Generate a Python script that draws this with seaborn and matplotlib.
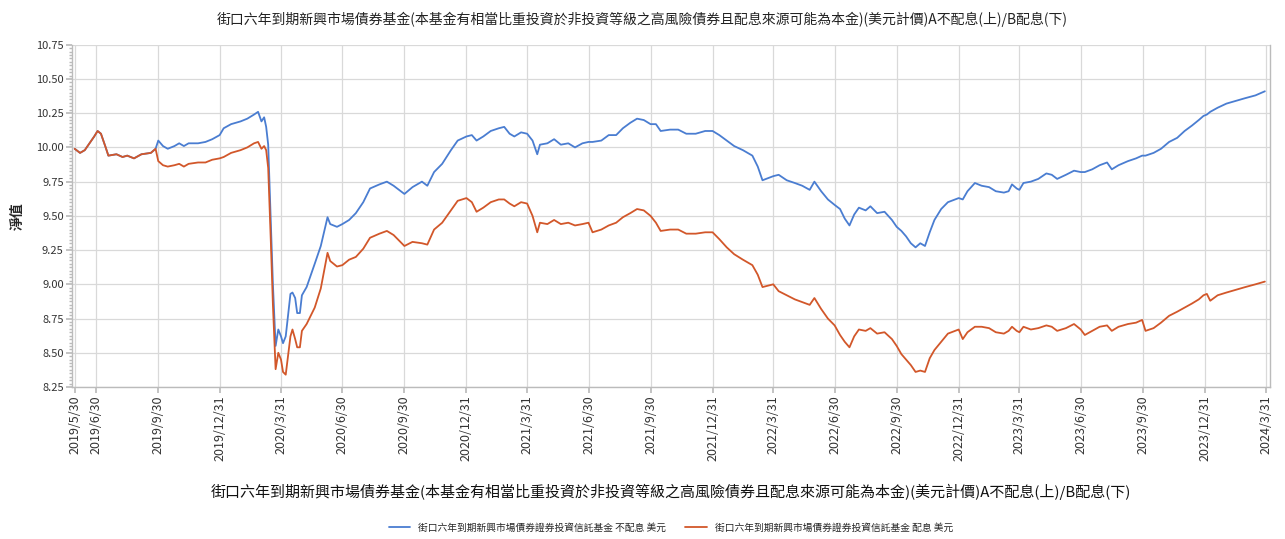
import pandas as pd
import seaborn as sns
import matplotlib.pyplot as plt
import matplotlib.dates as mdates
from matplotlib.ticker import FixedLocator, AutoMinorLocator

# chart data
dates = [
    "2019-05-30", "2019-06-07", "2019-06-14", "2019-06-21", "2019-06-28", "2019-07-03",
    "2019-07-08", "2019-07-15", "2019-07-19", "2019-07-31", "2019-08-09", "2019-08-16",
    "2019-08-26", "2019-09-06", "2019-09-20", "2019-09-27",
    "2019-10-01", "2019-10-08", "2019-10-15", "2019-10-25", "2019-11-01", "2019-11-08",
    "2019-11-15", "2019-11-29", "2019-12-10", "2019-12-20", "2019-12-31", "2020-01-06",
    "2020-01-17", "2020-01-31", "2020-02-10", "2020-02-20", "2020-02-26", "2020-03-02",
    "2020-03-06", "2020-03-09", "2020-03-12", "2020-03-16", "2020-03-19", "2020-03-23",
    "2020-03-27", "2020-03-31", "2020-04-03", "2020-04-07", "2020-04-14", "2020-04-17",
    "2020-04-21", "2020-04-24", "2020-04-28", "2020-05-01", "2020-05-08", "2020-05-20",
    "2020-05-29", "2020-06-08", "2020-06-12", "2020-06-22", "2020-06-30", "2020-07-10",
    "2020-07-20", "2020-07-31", "2020-08-10", "2020-08-24", "2020-09-04", "2020-09-14",
    "2020-09-30", "2020-10-12", "2020-10-26", "2020-11-03", "2020-11-13", "2020-11-25",
    "2020-12-08", "2020-12-18", "2020-12-31", "2021-01-08", "2021-01-15", "2021-01-25",
    "2021-02-05", "2021-02-17", "2021-02-25", "2021-03-05", "2021-03-12", "2021-03-22",
    "2021-03-31", "2021-04-08", "2021-04-15", "2021-04-19", "2021-04-30", "2021-05-10",
    "2021-05-20", "2021-05-31", "2021-06-10", "2021-06-21", "2021-06-30", "2021-07-06",
    "2021-07-19", "2021-07-30", "2021-08-10", "2021-08-20", "2021-08-31", "2021-09-10",
    "2021-09-20", "2021-09-30", "2021-10-08", "2021-10-15", "2021-10-29", "2021-11-10",
    "2021-11-22", "2021-12-06", "2021-12-20", "2021-12-31", "2022-01-10", "2022-01-21",
    "2022-02-01", "2022-02-14", "2022-02-28", "2022-03-08", "2022-03-15", "2022-03-31",
    "2022-04-08", "2022-04-20", "2022-05-02", "2022-05-13", "2022-05-24", "2022-05-31",
    "2022-06-10", "2022-06-20", "2022-06-30", "2022-07-08", "2022-07-15", "2022-07-22",
    "2022-07-29", "2022-08-05", "2022-08-15", "2022-08-22", "2022-09-01", "2022-09-12",
    "2022-09-23", "2022-09-30", "2022-10-07", "2022-10-14", "2022-10-21", "2022-10-28",
    "2022-11-04", "2022-11-11", "2022-11-18", "2022-11-25", "2022-12-05", "2022-12-15",
    "2022-12-31", "2023-01-06", "2023-01-13", "2023-01-24", "2023-02-03", "2023-02-14",
    "2023-02-24", "2023-03-08", "2023-03-15", "2023-03-20", "2023-03-27", "2023-03-31",
    "2023-04-06", "2023-04-17", "2023-04-28", "2023-05-10", "2023-05-18", "2023-05-26",
    "2023-06-08", "2023-06-20", "2023-06-30", "2023-07-06", "2023-07-17", "2023-07-28",
    "2023-08-08", "2023-08-15", "2023-08-25", "2023-09-08", "2023-09-20", "2023-09-29",
    "2023-10-04", "2023-10-16", "2023-10-27", "2023-11-08", "2023-11-20", "2023-12-01",
    "2023-12-12", "2023-12-22", "2023-12-29", "2024-01-03", "2024-01-08", "2024-01-19",
    "2024-02-01", "2024-02-15", "2024-02-29", "2024-03-15", "2024-03-29",
]

nav_a = [
    9.99, 9.96, 9.98, 10.03, 10.08, 10.12,
    10.10, 10.00, 9.94, 9.95, 9.93, 9.94,
    9.92, 9.95, 9.96, 9.99,
    10.05, 10.01, 9.99, 10.01, 10.03, 10.01,
    10.03, 10.03, 10.04, 10.06, 10.09, 10.14,
    10.17, 10.19, 10.21, 10.24, 10.26, 10.19,
    10.22, 10.15, 10.02, 9.45, 9.00, 8.55,
    8.67, 8.62, 8.57, 8.62, 8.93, 8.94,
    8.90, 8.79, 8.79, 8.92, 8.98, 9.15,
    9.28, 9.49, 9.44, 9.42, 9.44, 9.47,
    9.52, 9.60, 9.70, 9.73, 9.75, 9.72,
    9.66, 9.71, 9.75, 9.72, 9.82, 9.88,
    9.98, 10.05, 10.08, 10.09, 10.05, 10.08,
    10.12, 10.14, 10.15, 10.10, 10.08, 10.11,
    10.10, 10.05, 9.95, 10.02, 10.03, 10.06,
    10.02, 10.03, 10.00, 10.03, 10.04, 10.04,
    10.05, 10.09, 10.09, 10.14, 10.18, 10.21,
    10.20, 10.17, 10.17, 10.12, 10.13, 10.13,
    10.10, 10.10, 10.12, 10.12, 10.09, 10.05,
    10.01, 9.98, 9.94, 9.86, 9.76, 9.79,
    9.80, 9.76, 9.74, 9.72, 9.69, 9.75,
    9.68, 9.62, 9.58, 9.55, 9.48, 9.43,
    9.51, 9.56, 9.54, 9.57, 9.52, 9.53,
    9.47, 9.42, 9.39, 9.35, 9.30, 9.27,
    9.30, 9.28, 9.38, 9.47, 9.55, 9.60,
    9.63, 9.62, 9.68, 9.74, 9.72, 9.71,
    9.68, 9.67, 9.68, 9.73, 9.70, 9.69,
    9.74, 9.75, 9.77, 9.81, 9.80, 9.77,
    9.80, 9.83, 9.82, 9.82, 9.84, 9.87,
    9.89, 9.84, 9.87, 9.90, 9.92, 9.94,
    9.94, 9.96, 9.99, 10.04, 10.07, 10.12,
    10.16, 10.20, 10.23, 10.24, 10.26, 10.29,
    10.32, 10.34, 10.36, 10.38, 10.41,
]

nav_b = [
    9.99, 9.96, 9.98, 10.03, 10.08, 10.12,
    10.10, 10.00, 9.94, 9.95, 9.93, 9.94,
    9.92, 9.95, 9.96, 9.99,
    9.90, 9.87, 9.86, 9.87, 9.88, 9.86,
    9.88, 9.89, 9.89, 9.91, 9.92, 9.93,
    9.96, 9.98, 10.00, 10.03, 10.04, 9.99,
    10.01, 9.98, 9.85, 9.30, 8.85, 8.38,
    8.50, 8.45, 8.36, 8.34, 8.62, 8.67,
    8.60, 8.54, 8.54, 8.66, 8.71, 8.83,
    8.97, 9.23, 9.17, 9.13, 9.14, 9.18,
    9.20, 9.26, 9.34, 9.37, 9.39, 9.36,
    9.28, 9.31, 9.30, 9.29, 9.40, 9.45,
    9.54, 9.61, 9.63, 9.60, 9.53, 9.56,
    9.60, 9.62, 9.62, 9.59, 9.57, 9.60,
    9.59, 9.50, 9.38, 9.45, 9.44, 9.47,
    9.44, 9.45, 9.43, 9.44, 9.45, 9.38,
    9.40, 9.43, 9.45, 9.49, 9.52, 9.55,
    9.54, 9.50, 9.45, 9.39, 9.40, 9.40,
    9.37, 9.37, 9.38, 9.38, 9.33, 9.27,
    9.22, 9.18, 9.14, 9.07, 8.98, 9.00,
    8.95, 8.92, 8.89, 8.87, 8.85, 8.90,
    8.82, 8.75, 8.70, 8.63, 8.58, 8.54,
    8.62, 8.67, 8.66, 8.68, 8.64, 8.65,
    8.60, 8.55, 8.49, 8.45, 8.41, 8.36,
    8.37, 8.36, 8.46, 8.52, 8.58, 8.64,
    8.67, 8.60, 8.65, 8.69, 8.69, 8.68,
    8.65, 8.64, 8.66, 8.69, 8.66, 8.65,
    8.69, 8.67, 8.68, 8.70, 8.69, 8.66,
    8.68, 8.71, 8.67, 8.63, 8.66, 8.69,
    8.70, 8.66, 8.69, 8.71, 8.72, 8.74,
    8.66, 8.68, 8.72, 8.77, 8.80, 8.83,
    8.86, 8.89, 8.92, 8.93, 8.88, 8.92,
    8.94, 8.96, 8.98, 9.00, 9.02,
]

tick_dates = [
    "2019-05-30", "2019-06-30", "2019-09-30", "2019-12-31", "2020-03-31", "2020-06-30",
    "2020-09-30", "2020-12-31", "2021-03-31", "2021-06-30", "2021-09-30", "2021-12-31",
    "2022-03-31", "2022-06-30", "2022-09-30", "2022-12-31", "2023-03-31", "2023-06-30",
    "2023-09-30", "2023-12-31", "2024-03-31",
]
y_ticks = [8.25, 8.50, 8.75, 9.00, 9.25, 9.50, 9.75, 10.00, 10.25, 10.50, 10.75]

title = "街口六年到期新興市場債券基金(本基金有相當比重投資於非投資等級之高風險債券且配息來源可能為本金)(美元計價)A不配息(上)/B配息(下)"
name_a = "街口六年到期新興市場債券證券投資信託基金 不配息 美元"
name_b = "街口六年到期新興市場債券證券投資信託基金 配息 美元"

# build long-form table
df = pd.DataFrame({"date": pd.to_datetime(dates), name_a: nav_a, name_b: nav_b})
long_df = df.melt(id_vars="date", var_name="fund", value_name="nav")

sns.set_theme(style="whitegrid")
plt.rcParams["font.family"] = ["Noto Sans CJK TC", "DejaVu Sans"]
plt.rcParams["axes.unicode_minus"] = False

fig = plt.figure(figsize=(12.85, 5.39), dpi=100)
ax = fig.add_axes([0.056, 0.282, 0.932, 0.635])

sns.lineplot(data=long_df, x="date", y="nav", hue="fund",
             palette=["#4a7dd1", "#d2572a"], linewidth=1.3, ax=ax)

tick_pos = mdates.date2num(pd.to_datetime(tick_dates))
ax.xaxis.set_major_locator(FixedLocator(tick_pos))
tick_labels = [f"{d.year}/{d.month}/{d.day}" for d in pd.to_datetime(tick_dates)]
ax.set_xticklabels(tick_labels, rotation=90, fontsize=9, color="#333333")
ax.set_xlim(mdates.date2num(pd.Timestamp("2019-05-26")), mdates.date2num(pd.Timestamp("2024-04-05")))

ax.set_ylim(8.25, 10.75)
ax.set_yticks(y_ticks)
ax.set_yticklabels([f"{v:.2f}" for v in y_ticks], fontsize=8, color="#333333")
ax.yaxis.set_minor_locator(AutoMinorLocator(10))
ax.tick_params(axis="y", which="minor", length=2, color="#bbbbbb", left=True)
ax.tick_params(axis="both", which="major", length=4, color="#bbbbbb", left=True, bottom=True, pad=2)

ax.grid(True, which="major", color="#d9d9d9", linewidth=0.9)
for side in ["left", "bottom", "right"]:
    ax.spines[side].set_color("#bbbbbb")
    ax.spines[side].set_linewidth(1.0)
ax.spines["top"].set_visible(False)

ax.set_ylabel("淨值", fontsize=10, fontweight="bold", labelpad=8)
ax.set_xlabel(title, fontsize=10.8, color="#111111", labelpad=16)
fig.text(0.5, 0.965, title, ha="center", va="center", fontsize=10, color="#222222")

ax.legend(loc="upper center", bbox_to_anchor=(0.5, -0.37), ncol=2, frameon=False,
          fontsize=7, handlelength=2.2, columnspacing=2.0, title=None)

fig.savefig("out.png", dpi=100)
